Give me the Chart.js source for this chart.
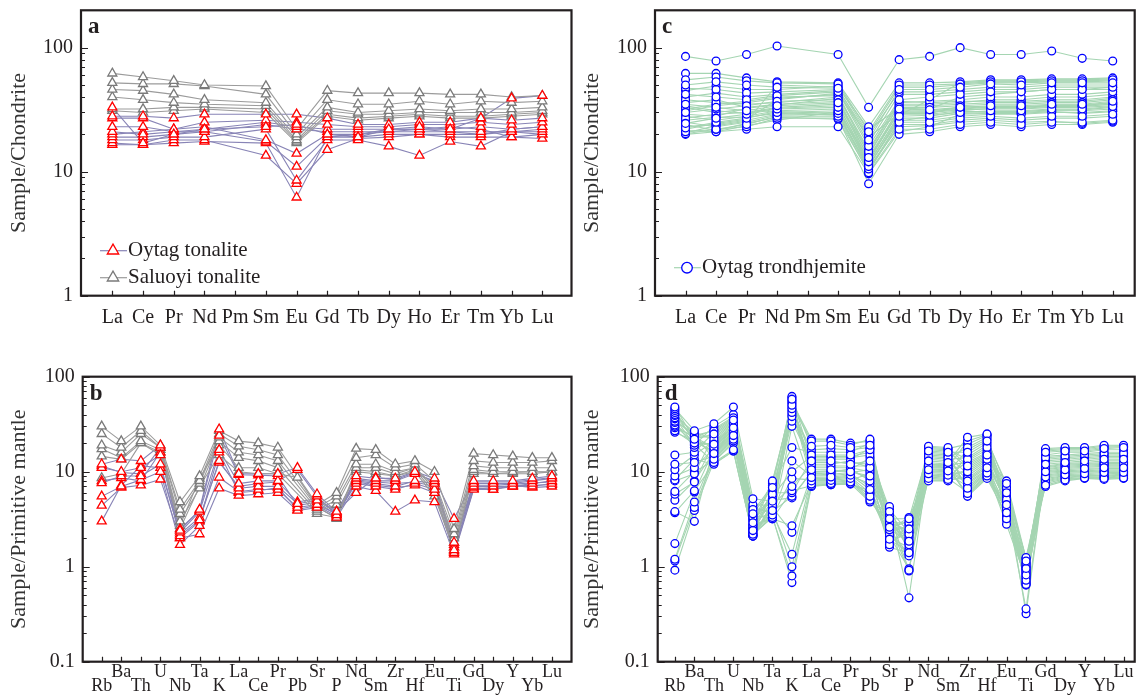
<!DOCTYPE html>
<html>
<head>
  <meta charset="utf-8">
  <title>Chondrite and primitive mantle normalised patterns</title>
  <script src="https://cdn.jsdelivr.net/npm/chart.js"></script>
  <style>
    body { margin: 0; background: #fff; }
    #wrap { position: relative; width: 1140px; height: 695px; }
    canvas { position: absolute; }
  </style>
</head>
<body>
<div id="wrap">
  <canvas id="chartA" width="578" height="340" style="left:0;top:0"></canvas>
  <canvas id="chartC" width="562" height="340" style="left:578px;top:0"></canvas>
  <canvas id="chartB" width="578" height="350" style="left:0;top:345px"></canvas>
  <canvas id="chartD" width="562" height="350" style="left:578px;top:345px"></canvas>
</div>

<script>
// ---- data ----
const reeLabels = ['La', 'Ce', 'Pr', 'Nd', 'Pm', 'Sm', 'Eu', 'Gd', 'Tb', 'Dy', 'Ho', 'Er', 'Tm', 'Yb', 'Lu'];
const pmLabels = ['Rb', 'Ba', 'Th', 'U', 'Nb', 'Ta', 'K', 'La', 'Ce', 'Pr', 'Pb', 'Sr', 'P',
                  'Nd', 'Sm', 'Zr', 'Hf', 'Eu', 'Ti', 'Gd', 'Dy', 'Y', 'Yb', 'Lu'];
const chondriteTicks = [1, 10, 100];
const mantleTicks = [0.1, 1, 10, 100];

// a: one row per sample, columns follow reeLabels (Pm not analysed)
const oytagTonaliteREE = [
  [33, 17, 20, 22, null, 23, 24, 20, 19, 22, 23, 22, 27, 39, 41],
  [28, 28, 27, 29, null, 29, 29, 27, 24, 24, 25, 25, 27, 26, 27],
  [27, 27, 22, 25, null, 26, 25, 24, 23, 23, 24, 24, 25, 24, 25],
  [23, 23, 21, 22, null, 25, 23, 22, 22, 22, 22, 22, 23, 22, 23],
  [21, 20, 21, 21, null, 24, 22, 21, 21, 21, 21, 21, 21, 21, 22],
  [20, 21, 22, 23, null, 18, 14, 20, 20, 21, 22, 21, 20, 21, 21],
  [19, 19, 20, 21, null, 17.5, 11, 19, 19, 20, 20, 20, 20, 22, 23],
  [18, 18, 19, 19, null, 22, 8.5, 18, 18, 16, 13.5, 17.5, 16, 21, 20],
  [17, 16.5, 18, 18, null, 13.5, 8, 15, 18.5, 19, 20, 19, 19, 19, 18.5],
  [16.5, 16.5, 17, 17.5, null, 17, 6.2, 19, 20, 22, 22, 23, 22, 19, 20]
];
const saluoyiTonaliteREE = [
  [62, 58, 54, 50, null, 49, 22, 45, 43, 43, 43, 42, 42, 40, 41],
  [52, 51, 51, 49, null, 42, 20, 38, 35, 35, 37, 35, 37, 36, 37],
  [46, 45, 42, 38, null, 36, 19, 33, 30, 31, 32, 31, 32, 32, 33],
  [40, 38, 36, 35, null, 34, 18, 31, 29, 29, 30, 30, 30, 30, 31],
  [32, 32, 33, 33, null, 32, 17.5, 29, 27, 28, 29, 28, 28, 29, 30],
  [31, 30, 31, 32, null, 30, 17, 28, 26, 27, 28, 27, 27, 28, 29]
];

// b: one row per element (pmLabels order), one column per sample
const oytagTonalitePM = [
  [12, 11, 7.6, 5.5, 4.4, 3.0, 11.5, 8],        // Rb
  [13.5, 10, 9, 7, 6.8, 7.2, 9.8, 8.6],         // Ba
  [13, 11, 9, 8.2, 7.2, 11.5, 9.5, 8],          // Th
  [19, 15, 12, 10, 8.3, 11, 18, 16],            // U
  [2.4, 2.3, 2.1, 1.7, 2.0, 2.2, 2.5, 2.0],     // Nb
  [4, 3.8, 3.1, 2.7, 2.2, 3.3, 3.9, 3.0],       // Ta
  [28, 17, 13, 8.7, 6.7, 12.5, 24, 16],         // K
  [9.5, 7.5, 6.7, 6.2, 5.6, 7, 9.3, 6],         // La
  [9.5, 8, 7, 6.5, 5.8, 7.5, 9.2, 6.3],         // Ce
  [9.5, 8, 7, 6.5, 6, 7.8, 9, 6.8],             // Pr
  [11, 10.5, 4.6, 4.2, 3.9, 4.8, 4.4, 4],       // Pb
  [5.8, 5.5, 5, 4.5, 4.2, 5.2, 4.8, 4.4],       // Sr
  [3.8, 3.5, 3.7, 3.6, 3.3, 3.8, 3.5, 3.4],     // P
  [9, 8.5, 8, 7.5, 7, 6, 8.2, 7.8],             // Nd
  [8.5, 8, 7.5, 7, 6.3, 8.7, 7.8, 7.2],         // Sm
  [8.5, 8, 7, 6.5, 3.8, 8.2, 7.5, 6.8],         // Zr
  [10, 9.5, 8, 7.5, 5, 9.8, 7.8, 7.2],          // Hf
  [8.5, 8, 7.5, 6.5, 4.8, 7.8, 7, 6],           // Eu
  [3.2, 1.8, 1.5, 1.4, 1.35, 1.6, 1.7, 1.45],   // Ti
  [8, 7.5, 7, 6.8, 6.5, 7.8, 7.2, 6.6],         // Gd
  [8, 7.5, 7, 6.5, 6.5, 7.8, 7.2, 6.8],         // Dy
  [8, 7.5, 7, 7, 7.2, 7.8, 7.4, 7.1],           // Y
  [8.5, 8, 7.5, 7, 6.8, 8.2, 7.6, 7.2],         // Yb
  [9, 8.5, 8, 7.5, 7, 8.7, 7.8, 7.3]            // Lu
];
const saluoyiTonalitePM = [
  [30, 25, 19, 17.3, 14.5, 8.6],                // Rb
  [21, 18, 16, 14, 13.5, 9.5],                  // Ba
  [30, 27, 25, 21, 20, 20],                     // Th
  [19, 18, 18, 17, 16, 15],                     // U
  [4.8, 4, 3.6, 3, 2.7, 2.5],                   // Nb
  [9, 8, 7.5, 6.7, 8.5, 7],                     // Ta
  [27, 25, 23, 21, 19, 15],                     // K
  [21, 18.5, 16, 14, 11, 10],                   // La
  [20, 17, 15, 13, 11, 9.5],                    // Ce
  [18, 15, 13, 11, 9.5, 9.5],                   // Pr
  [null, null, null, null, null, 8.7],          // Pb
  [4.5, 4.2, 4, 3.8, 3.6, 4.3],                 // Sr
  [6, 5.5, 5, 4.5, 3.3, 3.2],                   // P
  [17.5, 14, 12, 11, 10.5, 10],                 // Nd
  [17, 15, 12, 11, 10, 9.5],                    // Sm
  [12, 11, 10, 9.5, 9, 9],                      // Zr
  [13, 12, 11, 11, 10.5, 10],                   // Hf
  [10, 8, 7, 6.5, 6, 5.5],                      // Eu
  [2.5, 2.2, 2, 1.8, 1.6, 1.5],                 // Ti
  [15.5, 13, 11.5, 10.5, 10, 9.5],              // Gd
  [15, 12.5, 11, 10, 9.5, 9.5],                 // Dy
  [14.5, 12.5, 11, 10, 9.8, 9.5],               // Y
  [14, 12.5, 11, 10, 10, 9.5],                  // Yb
  [14, 13, 11, 10, 9.8, 10]                     // Lu
];

// c: one row per element (reeLabels order), one column per sample
const oytagTrondhjemiteREE = [
  [85, 50, 35, 55, 30, 42, 24.5, 33, 62, 22.5, 38, 27, 47, 31, 34, 21, 45, 25, 40, 23, 32, 20.2, 36, 28, 29, 21.5, 26, 24, 22, 20.5, 20],
  [78, 53, 33, 58, 32, 40, 27, 30, 62, 25, 36, 29, 46, 34, 31, 22, 49, 23, 43, 24, 35, 22, 38, 26, 28, 21, 27.5, 21.5, 24.5, 23.5, 21],
  [88, 50, 31, 54, 34, 38, 29, 32, 57, 27, 35, 30, 43, 36, 29.5, 24, 46, 25, 40, 26, 37, 23, 33, 28, 32.5, 22, 27.5, 24.5, 26.5, 25.5, 23.5],
  [103, 48, 34, 52, 37, 41, 32, 30, 53, 30.5, 36, 33, 44, 39, 32.5, 28, 46, 28.5, 42, 29, 40, 27, 35, 31, 34.5, 23, 29.5, 27.5, 38, 50, 26],
  [],
  [88, 47, 36, 51, 38, 44, 33, 31, 52, 29.5, 40, 35, 46, 42, 34, 28, 49, 29, 45, 30, 41, 27, 37, 32, 39, 23, 28.5, 26.5, 43, 48, 30.5],
  [33, 18, 13, 21, 12, 16, 11, 12.5, 23, 10.5, 14.5, 11.5, 19.5, 13.5, 12.2, 9.8, 20, 10.2, 17, 10.8, 15, 8, 14, 11.2, 12.8, 9.6, 11, 10, 19, 22, 11.8],
  [80, 46, 32, 50, 33, 38, 28, 30.5, 52, 25, 36, 29, 44, 35, 31, 22, 48, 24, 42, 23, 37, 20, 34, 26, 30, 21, 27, 25.5, 29.5, 32.5, 28.5],
  [85, 46, 31.5, 50, 33, 40, 28.5, 30, 52, 25, 37, 29, 44, 35, 31, 22, 48, 24, 42, 23.5, 36, 21, 34, 26, 30.5, 23, 27, 28, 29.5, 32, 38],
  [100, 48, 33, 51, 34, 42, 30, 31.5, 53, 27, 38, 31, 46, 36, 32.5, 24, 50, 26, 44, 25, 37, 23, 35, 28, 32, 29, 29.5, 30.5, 33.5, 40, 52],
  [88, 51, 34, 53, 35, 44, 31, 32, 55, 28, 40, 32.5, 48, 38, 33.5, 25, 52, 27, 46, 26, 37, 24, 36, 29, 33, 29.5, 30, 30.5, 33, 42, 54],
  [88, 50, 34, 53, 35, 44, 31, 32, 55, 27, 40, 32.5, 48, 38, 33.5, 24, 52, 26, 46, 25, 37, 23, 36, 29, 33, 29.5, 30, 30.5, 33, 44, 54],
  [94, 52, 35, 54, 36, 46, 32, 33, 56, 28, 42, 33.5, 50, 40, 34, 25, 53, 27, 48, 25.5, 38, 24, 37, 30, 34, 30.5, 31, 31.5, 34.5, 46, 55],
  [82, 52, 35, 54, 36, 46, 32, 33, 56, 28, 42, 33.5, 50, 40, 34, 25, 53, 27, 48, 24.5, 38, 24, 37, 30, 34, 29.5, 31, 31.5, 34.5, 46, 55],
  [78, 52, 37, 55, 38, 48, 33.5, 34, 57, 29, 44, 35, 50, 42, 36, 26, 54, 28, 48, 25.5, 40, 25, 39, 31, 35, 30.5, 32, 33, 36, 46, 56]
];

// d: one row per element (pmLabels order), one column per sample
const oytagTrondhjemitePM = [
  [48, 46, 44, 42, 40, 39, 37, 36, 34, 33, 31, 30, 29, 27, 26, 15, 12, 10.5, 9, 8.2, 8, 6.2, 5.8, 5, 3.8, 3.7, 1.75, 1.2, 1.15, 0.92],
  [22, 27, 20, 24, 21.5, 26, 19, 23, 25, 18, 22.5, 20.5, 23.5, 19.5, 21, 16, 12.5, 15, 11, 13.5, 9.5, 10, 7.8, 8, 3.0, 6.3, 6.1, 4.8, 4.2, 3.9],
  [25, 32, 19.5, 27, 15.5, 22, 30, 18, 13.5, 20.5, 28, 16.5, 23, 12.5, 19, 26, 14.5, 21, 17.5, 12, 24, 13, 20, 16, 18.5, 12.2, 17, 15, 14, 12.8],
  [35, 48, 29, 37, 24, 32, 40, 27, 22, 30, 38, 25, 33, 17, 28, 36, 23, 31, 26, 16.5, 34, 21, 29.5, 24.5, 27.5, 16.5, 25.5, 23.5, 22.5, 20],
  [3.6, 5.2, 2.9, 4, 2.4, 3.3, 4.5, 2.7, 2.2, 3.1, 4.2, 2.5, 3.4, 2.1, 2.8, 3.8, 2.3, 3.2, 2.6, 2.1, 3.5, 2.2, 3.0, 2.45, 2.75, 2.1, 2.55, 2.35, 2.25, 2.15],
  [6.8, 4.9, 8, 3.9, 5.8, 3.5, 4.4, 7.6, 3.3, 5.2, 3.7, 6.3, 4.1, 4.7, 3.2, 7.2, 3.5, 5.5, 3.4, 4.5, 3.2, 6, 3.8, 5, 3.2, 4.2, 3.6, 4, 3.3, 3.4],
  [58, 62, 50, 56, 46, 60, 42, 54, 48, 38, 52, 44, 40, 34, 30, 18, 13, 10, 8.5, 7, 6.3, 6, 5.5, 5.3, 2.7, 2.3, 1.35, 1.0, 0.8, 0.68],
  [18.5, 13, 21, 10.5, 15, 8.7, 12, 22, 8, 14, 9.5, 17, 11, 12.5, 7.4, 16, 9, 14.5, 8.2, 11.5, 7.1, 13.5, 9.8, 10, 7.6, 9.2, 8.5, 7.8, 7.2, 7],
  [19, 13, 21, 10.5, 15, 8.8, 12, 22, 8.1, 14, 9.7, 17.5, 11, 12.5, 7.5, 16, 9.1, 14.5, 8.3, 11.5, 7.3, 13.5, 10, 10.2, 7.7, 9.4, 8.5, 7.9, 7.4, 7.3],
  [18, 12, 19, 10, 15, 9.2, 13, 20, 8.5, 14, 10.8, 17, 11, 12.5, 7.8, 16, 9.5, 14.5, 8.8, 11.5, 7.5, 13.5, 10.2, 10.5, 8, 9.8, 9, 8.2, 7.6, 7.4],
  [19, 13, 22, 9, 17, 6.5, 11, 21, 5.5, 15, 8, 18, 10, 12, 5, 20, 7, 16, 6, 11.5, 4.8, 17.5, 8.5, 14, 5.2, 10.5, 7.5, 9.5, 5.8, 6.3],
  [3.2, 3.8, 2.6, 4.3, 2.9, 1.95, 3.5, 2.45, 3.0, 4.0, 2.2, 2.75, 1.7, 3.4, 2.85, 2.55, 3.6, 1.8, 3.1, 2.4, 2.95, 2.0, 3.3, 2.8, 2.3, 2.7, 1.6, 2.5, 1.9, 2.1],
  [3.2, 1.85, 2.5, 1.4, 2.9, 2.2, 0.92, 3.3, 1.7, 2.3, 1.3, 2.0, 2.8, 1.5, 1.8, 3.0, 0.47, 2.3, 1.9, 1.35, 2.4, 1.6, 2.1, 0.9, 2.7, 1.75, 1.4, 1.8, 1.45, 0.95],
  [16.5, 13, 18.5, 14.5, 10.5, 17.5, 11.5, 9.5, 15.5, 12, 18, 8.5, 14, 11, 17, 10, 12.5, 9, 15, 11.8, 8, 16, 10.7, 13.5, 9.2, 11.2, 8.2, 10.2, 9.8, 8.8],
  [16, 12.5, 18, 14, 10.2, 17, 11.2, 9.2, 15, 11.8, 17.5, 8.3, 13.5, 10.8, 16.5, 9.8, 12, 8.8, 14.5, 11.5, 8, 15.5, 10.5, 13, 9, 11, 8.1, 10, 9.5, 8.5],
  [16, 23, 11.5, 18, 8, 13.5, 21, 10, 6.7, 12.5, 19.5, 8.5, 14, 5.9, 11, 17, 7.4, 13, 9.5, 5.5, 15, 6.4, 12, 8.2, 10.5, 5.7, 9, 7.7, 7, 6.1],
  [21, 25, 15, 23, 11, 18, 24.5, 13.5, 9.7, 16, 24, 12, 19, 9, 14.5, 22, 10.2, 17, 13, 8.5, 20, 9.5, 15.5, 11.5, 14, 8.7, 12.5, 10.5, 10, 9.2],
  [7.5, 4.5, 6, 3.7, 6.8, 5.1, 3.2, 8, 4.1, 5.5, 3.4, 4.8, 6.5, 3.9, 4.3, 7, 2.8, 5.3, 4.6, 3.5, 5.7, 4, 5, 3.1, 6.2, 4.2, 3.6, 4.4, 3.8, 3.3],
  [1.15, 0.96, 1.25, 0.82, 1.05, 0.72, 0.9, 1.22, 0.65, 1.0, 0.78, 1.1, 0.86, 0.94, 0.36, 1.2, 0.74, 1.02, 0.68, 0.92, 0.32, 1.08, 0.8, 0.98, 0.64, 0.88, 0.76, 0.84, 0.66, 0.7],
  [12, 16, 10, 17.5, 8.8, 14, 11, 7.2, 17, 9.5, 13, 8, 15, 10.5, 11.5, 7, 16.5, 9.2, 13.5, 8.5, 10.7, 14.5, 7.8, 12.5, 9.8, 11.2, 7.5, 10.2, 9, 8.2],
  [12.5, 16.5, 10.5, 18, 9.3, 14.5, 11.7, 8.2, 17.5, 10, 13.5, 8.8, 16, 11.1, 12.2, 8, 17, 9.8, 14, 9.1, 11.4, 15, 8.6, 13, 10.2, 12, 8.4, 10.8, 9.5, 9],
  [13, 16.5, 10.8, 18, 9.5, 15, 12, 8.6, 17.5, 10.2, 14, 9, 16, 11.4, 12.5, 8.5, 17, 10, 14.5, 9.3, 11.7, 15.5, 8.9, 13.5, 10.5, 12.2, 8.7, 11.1, 9.8, 9.1],
  [13.5, 17.5, 11, 19, 9.8, 15.5, 12.2, 8.5, 18.5, 10.5, 14.5, 9, 17, 11.7, 13, 8.3, 18, 10.2, 15, 9.5, 12, 16, 8.8, 14, 10.8, 12.5, 8.6, 11.4, 10, 9.2],
  [13.5, 18, 11, 19, 9.8, 15.5, 12.2, 8.6, 18.7, 10.5, 14.5, 9.2, 17, 11.7, 13, 8.5, 18.4, 10.2, 15, 9.6, 12, 16, 9, 14, 10.8, 12.5, 8.8, 11.4, 10, 9.4]
];

// ---- styles ----
const INK = '#231f20';
const oytagTonaliteStyle = { line: '#8884b6', mark: '#ff0000', shape: 'triangle', r: 5.2 };
const saluoyiStyle = { line: '#9b9b9b', mark: '#7a7a7a', shape: 'triangle', r: 5.2 };
const trondStyle = { line: '#a5d5b2', mark: '#0000ff', shape: 'circle', r: 3.9 };

Chart.defaults.font.family = '"Liberation Serif", "Times New Roman", serif';
Chart.defaults.color = INK;

function colsToRows(cols) {
  const n = Math.max(...cols.map(c => c.length));
  const rows = [];
  for (let s = 0; s < n; s++) rows.push(cols.map(c => c[s]));
  return rows;
}

function toPoints(row) {
  return row.map((y, x) => ({ x, y })).filter(p => p.y != null);
}

// lines go underneath, markers on top
function groupSets(rows, style, lineOrder, markOrder) {
  const sets = [];
  rows.forEach(r => {
    sets.push({
      data: toPoints(r), borderColor: style.line, borderWidth: 1.1,
      pointRadius: 0, tension: 0, fill: false, order: lineOrder
    });
    sets.push({
      data: toPoints(r), showLine: false, pointStyle: style.shape,
      pointRadius: style.r, pointBorderWidth: 1.3,
      pointBorderColor: style.mark, pointBackgroundColor: '#ffffff', order: markOrder
    });
  });
  return sets;
}

function drawMark(ctx, shape, x, y, r, color) {
  ctx.beginPath();
  if (shape === 'triangle') {
    for (let k = 0; k < 3; k++) {
      const a = k * 2 * Math.PI / 3;
      const px = x + Math.sin(a) * r, py = y - Math.cos(a) * r;
      k ? ctx.lineTo(px, py) : ctx.moveTo(px, py);
    }
    ctx.closePath();
  } else {
    ctx.arc(x, y, r, 0, Math.PI * 2);
  }
  ctx.fillStyle = '#fff';
  ctx.fill();
  ctx.lineWidth = 1.3;
  ctx.strokeStyle = color;
  ctx.stroke();
}

// frame, inward ticks, panel letter and in-plot legend
const panelDeco = {
  id: 'panelDeco',
  afterDraw(chart, args, opts) {
    const { ctx, chartArea: a, scales: { x, y } } = chart;
    ctx.save();
    ctx.strokeStyle = INK;
    ctx.lineWidth = 1.2;
    ctx.beginPath();
    const lo = Math.floor(Math.log10(y.min) + 1e-9), hi = Math.ceil(Math.log10(y.max) - 1e-9);
    for (let e = lo; e <= hi; e++) {
      for (let m = 1; m <= 9; m++) {
        const v = m * Math.pow(10, e);
        if (v < y.min * 0.999 || v > y.max * 1.001) continue;
        const py = Math.round(y.getPixelForValue(v)) + 0.5;
        ctx.moveTo(a.left, py);
        ctx.lineTo(a.left + (m === 1 ? 7 : 4), py);
      }
    }
    opts.labels.forEach((_, i) => {
      const px = Math.round(x.getPixelForValue(i)) + 0.5;
      ctx.moveTo(px, a.bottom);
      ctx.lineTo(px, a.bottom - 5);
    });
    ctx.stroke();

    ctx.lineWidth = 2.2;
    ctx.strokeRect(a.left, a.top, a.right - a.left, a.bottom - a.top);

    ctx.fillStyle = INK;
    ctx.font = 'bold 23px "Liberation Serif"';
    ctx.textBaseline = 'alphabetic';
    ctx.fillText(opts.letter, a.left + 7, a.top + 23);

    (opts.legend || []).forEach(item => {
      const ly = a.bottom - item.up;
      ctx.beginPath();
      ctx.strokeStyle = item.style.line;
      ctx.lineWidth = 1.2;
      ctx.moveTo(a.left + 19, ly);
      ctx.lineTo(a.left + 46, ly);
      ctx.stroke();
      drawMark(ctx, item.style.shape, a.left + 32, ly, item.style.r + 1.4, item.style.mark);
      ctx.fillStyle = INK;
      ctx.font = '21px "Liberation Serif"';
      ctx.textBaseline = 'middle';
      ctx.fillText(item.text, a.left + 47, ly);
    });
    ctx.restore();
  }
};

function makePanel(id, cfg) {
  const twoRow = cfg.labels.length > 15;
  new Chart(document.getElementById(id), {
    type: 'line',
    data: { datasets: cfg.datasets },
    plugins: [panelDeco],
    options: {
      responsive: false,
      animation: false,
      events: [],
      layout: { padding: { top: cfg.padTop, right: cfg.padRight, left: 0, bottom: 0 } },
      plugins: {
        legend: { display: false },
        tooltip: { enabled: false },
        panelDeco: { letter: cfg.letter, labels: cfg.labels, legend: cfg.legend }
      },
      scales: {
        x: {
          type: 'linear', min: cfg.xMin, max: cfg.xMax,
          grid: { display: false, drawTicks: false }, border: { display: false },
          afterBuildTicks: s => { s.ticks = cfg.labels.map((_, i) => ({ value: i })); },
          afterFit: s => { s.height = cfg.xHeight; s.paddingLeft = 0; s.paddingRight = 0; },
          ticks: {
            autoSkip: false, maxRotation: 0, minRotation: 0,
            padding: twoRow ? 4 : 10,
            font: twoRow ? { size: 18, lineHeight: '14px' } : { size: 20 },
            callback: v => twoRow ? (v % 2 ? [cfg.labels[v], ''] : ['', cfg.labels[v]]) : cfg.labels[v]
          }
        },
        y: {
          type: 'logarithmic', min: cfg.yMin, max: cfg.yMax,
          grid: { display: false, drawTicks: false }, border: { display: false },
          afterBuildTicks: s => { s.ticks = cfg.yTicks.map(v => ({ value: v })); },
          afterFit: s => { s.width = cfg.yWidth; s.paddingTop = 0; s.paddingBottom = 0; },
          ticks: { padding: 8, font: { size: 20 }, callback: v => String(v) },
          title: {
            display: true, text: cfg.yTitle, color: '#333',
            font: { size: 22 }, padding: { top: cfg.titlePad, bottom: 0 }
          }
        }
      }
    }
  });
}

makePanel('chartA', {
  letter: 'a', labels: reeLabels, yTicks: chondriteTicks, yMin: 1, yMax: 200,
  yTitle: 'Sample/Chondrite', xMin: -1.02, xMax: 14.95,
  padTop: 10.3, padRight: 6, yWidth: 81, xHeight: 44.3, titlePad: 6.3,
  datasets: [
    ...groupSets(oytagTonaliteREE, oytagTonaliteStyle, 4, 1),
    ...groupSets(saluoyiTonaliteREE, saluoyiStyle, 3, 2)
  ],
  legend: [
    { text: 'Oytag tonalite', style: oytagTonaliteStyle, up: 45 },
    { text: 'Saluoyi tonalite', style: saluoyiStyle, up: 18 }
  ]
});

makePanel('chartC', {
  letter: 'c', labels: reeLabels, yTicks: chondriteTicks, yMin: 1, yMax: 200,
  yTitle: 'Sample/Chondrite', xMin: -1, xMax: 14.72,
  padTop: 10.3, padRight: 2, yWidth: 77, xHeight: 44.3, titlePad: 1.3,
  datasets: groupSets(colsToRows(oytagTrondhjemiteREE), trondStyle, 2, 1),
  legend: [{ text: 'Oytag trondhjemite', style: trondStyle, up: 28 }]
});

makePanel('chartB', {
  letter: 'b', labels: pmLabels, yTicks: mantleTicks, yMin: 0.1, yMax: 100,
  yTitle: 'Sample/Primitive mantle', xMin: -0.97, xMax: 24,
  padTop: 31.7, padRight: 4, yWidth: 82.7, xHeight: 33.3, titlePad: 6.3,
  datasets: [
    ...groupSets(colsToRows(oytagTonalitePM), oytagTonaliteStyle, 4, 1),
    ...groupSets(colsToRows(saluoyiTonalitePM), saluoyiStyle, 3, 2)
  ]
});

makePanel('chartD', {
  letter: 'd', labels: pmLabels, yTicks: mantleTicks, yMin: 0.1, yMax: 100,
  yTitle: 'Sample/Primitive mantle', xMin: -0.88, xMax: 23.57,
  padTop: 31.7, padRight: 1, yWidth: 79.7, xHeight: 33.3, titlePad: 1.3,
  datasets: groupSets(colsToRows(oytagTrondhjemitePM), trondStyle, 2, 1)
});
</script>
</body>
</html>
